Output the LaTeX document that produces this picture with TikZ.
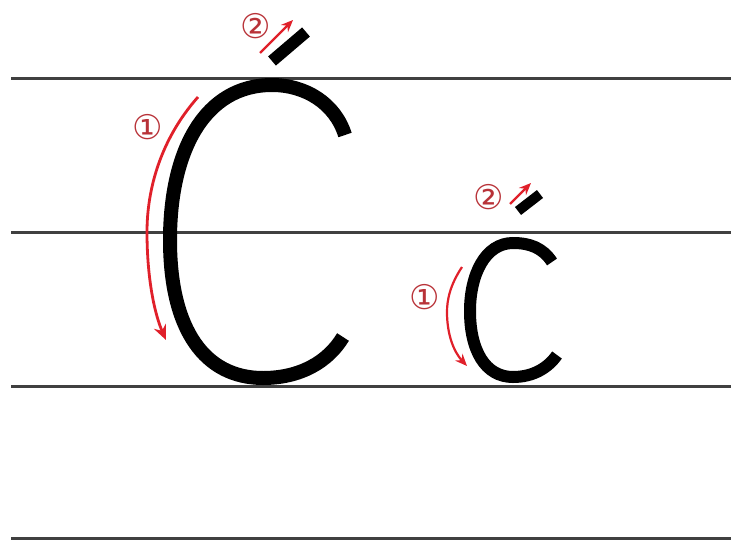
\documentclass[tikz,border=0pt]{standalone}
\usepackage{fontspec}
\newfontfamily\circfont{DejaVu Sans}
\usepackage{xcolor}
\definecolor{ruleline}{HTML}{404040}
\definecolor{strokered}{HTML}{E0202A}
\definecolor{numred}{HTML}{B83238}
\usetikzlibrary{arrows.meta}

\begin{document}
\begin{tikzpicture}[
  x=1pt, y=-1pt,
  rule/.style={ruleline, line width=3pt},
  letter/.style={black, line width=14pt},
  smallletter/.style={black, line width=12pt},
  accent/.style={black, line width=12pt},
  guide/.style={strokered, line width=2.8pt, -{Stealth[length=15pt, width=13pt, inset=5pt]}},
  shortguide/.style={strokered, line width=2.2pt, -{Stealth[length=12pt, width=10pt, inset=4pt]}},
  num/.style={text=numred, inner sep=0pt, font=\circfont\fontsize{34}{34}\selectfont},
]
\useasboundingbox (0,0) rectangle (731,541);
% ---------------- ruled lines
\foreach \y/\n in {78/top, 232/mid, 386/base, 538/low} {
  \coordinate (\n W) at (11,\y);
  \coordinate (\n E) at (731,\y);
  \draw[rule] (\n W) -- (\n E);
}
% ---------------- capital C with acute
\draw[letter] (345,135) .. controls (335,103) and (305,85) .. (272,85)
  .. controls (205,85) and (170,150) .. (170,240)
  .. controls (170,330) and (205,378) .. (263,378)
  .. controls (300,378) and (328,362) .. (343,337);
\coordinate (bigAccA) at (272,61);
\coordinate (bigAccB) at (306,32);
\draw[accent] (bigAccA) -- (bigAccB);
% strokes
\coordinate (bigOneS) at (198,97);
\coordinate (bigOneE) at (166,340);
\draw[guide] (bigOneS) .. controls (160,140) and (147,190) .. (147,232)
  .. controls (147,280) and (155,315) .. (bigOneE);
\coordinate (bigTwoS) at (260,53);
\coordinate (bigTwoE) at (293,20);
\draw[shortguide] (bigTwoS) -- (bigTwoE);
\node[num] (bigone) at (148,127) {①};
\node[num] (bigtwo) at (256,26) {②};
% ---------------- small c with acute
\draw[smallletter] (552,262) .. controls (543,248) and (530,243) .. (513,243)
  .. controls (485,243) and (470,275) .. (470,311)
  .. controls (470,350) and (485,377) .. (513,377)
  .. controls (533,377) and (548,368) .. (557,355);
\coordinate (smallAccA) at (518,211);
\coordinate (smallAccB) at (540,194);
\draw[smallletter, line width=10pt] (smallAccA) -- (smallAccB);
% strokes
\coordinate (smallOneS) at (462,267);
\coordinate (smallOneE) at (467,366);
\draw[shortguide] (smallOneS) .. controls (450,285) and (447,300) .. (447,312)
  .. controls (447,335) and (454,352) .. (smallOneE);
\coordinate (smallTwoS) at (510,204);
\coordinate (smallTwoE) at (531,183);
\draw[shortguide] (smallTwoS) -- (smallTwoE);
\node[num] (smallone) at (425,297) {①};
\node[num] (smalltwo) at (489,197) {②};
\end{tikzpicture}
\end{document}
